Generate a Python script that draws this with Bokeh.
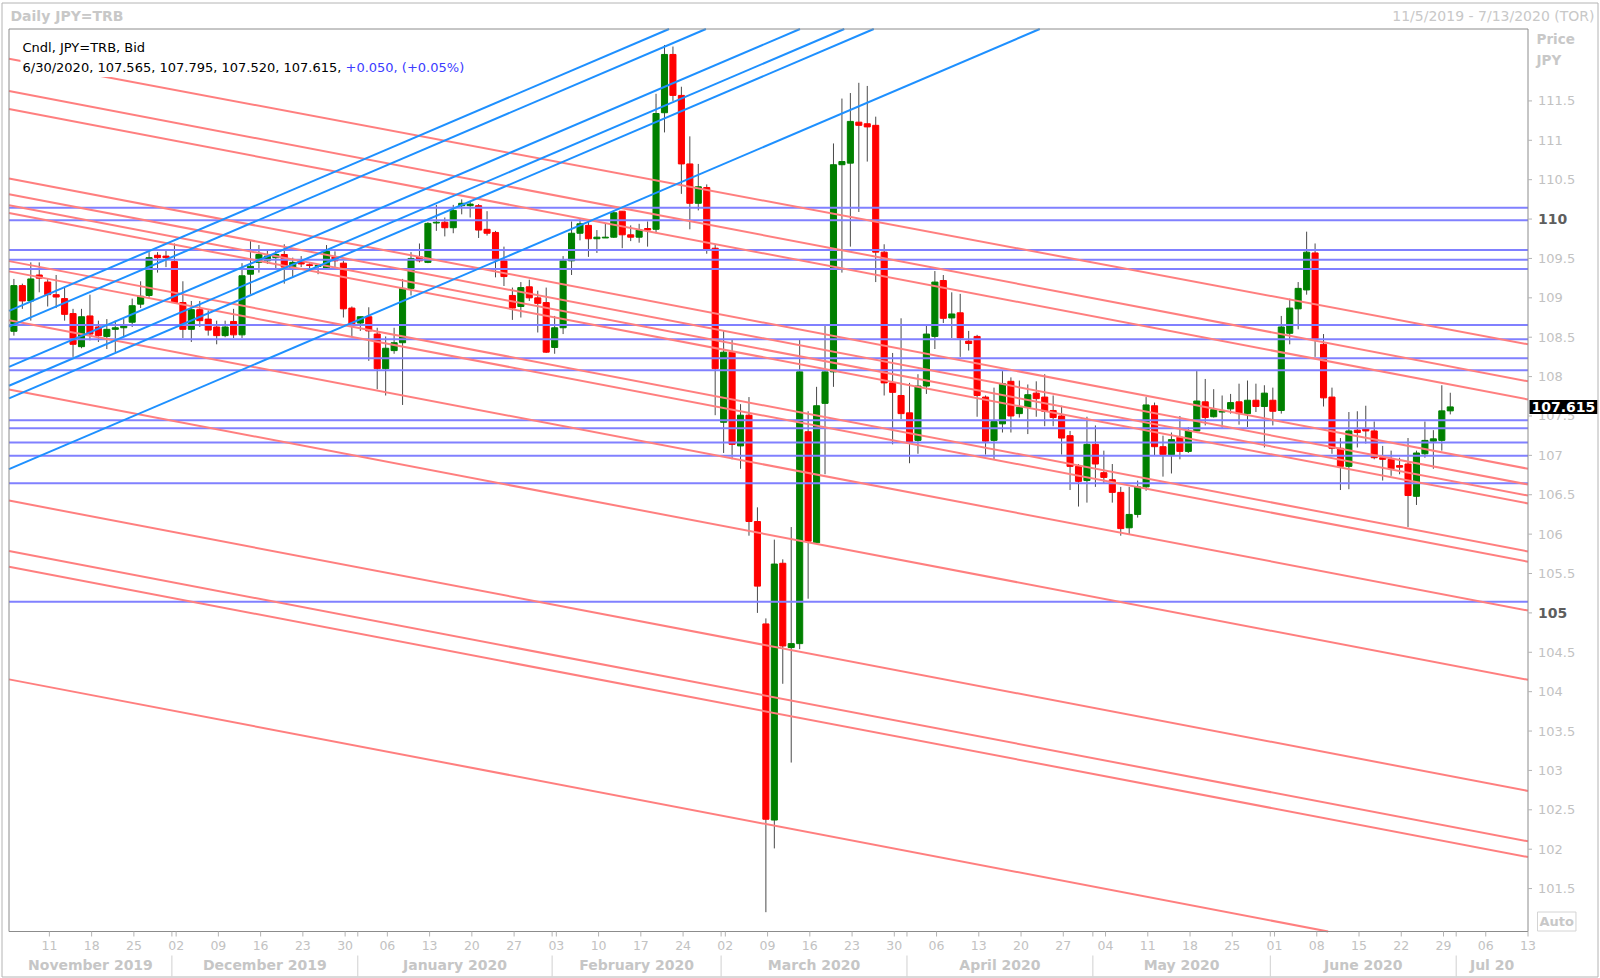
import pandas as pd
from bokeh.plotting import figure
from bokeh.models import Range1d, Label, ColumnDataSource
from bokeh.embed import file_html
from bokeh.resources import INLINE
from bokeh.core.properties import value

# ---------------- data ----------------
first_day = "2019-11-05"
last_day = "2020-07-13"

opens = [108.575, 109.155, 108.96, 109.29, 109.2, 109.04, 108.99, 108.8, 108.38, 108.77,
         108.63, 108.51, 108.60, 108.62, 108.69, 108.92, 109.03, 109.54, 109.53, 109.46,
         108.94, 108.60, 108.85, 108.73, 108.63, 108.52, 108.70, 108.53, 109.30, 109.45,
         109.47, 109.51, 109.55, 109.38, 109.47, 109.42, 109.40, 109.38, 109.52, 109.44,
         108.87, 108.68, 108.76, 108.54, 108.10, 108.33, 108.43, 109.12, 109.52, 109.45,
         109.95, 109.96, 109.89, 110.17, 110.17, 110.17, 109.87, 109.83, 109.47, 109.03,
         108.89, 109.14, 109.00, 108.94, 108.37, 108.62, 109.47, 109.82, 109.92, 109.75,
         109.76, 109.77, 110.10, 109.80, 109.77, 109.88, 109.87, 111.35, 112.09, 111.57,
         110.70, 110.20, 110.40, 109.63, 107.42, 108.31, 107.12, 107.51, 106.16, 104.86,
         102.37, 105.63, 104.56, 104.61, 107.30, 105.89, 107.66, 108.06, 110.69, 110.71,
         111.23, 111.21, 111.19, 109.58, 107.92, 107.76, 107.54, 107.19, 107.88, 108.51,
         109.22, 108.745, 108.81, 108.45, 108.51, 107.74, 107.19, 107.40, 107.94, 107.53,
         107.61, 107.79, 107.74, 107.57, 107.50, 107.25, 106.86, 106.68, 107.14, 106.78,
         106.69, 106.53, 106.08, 106.25, 106.60, 107.63, 107.11, 107.01, 107.23, 107.05,
         107.31, 107.68, 107.49, 107.55, 107.59, 107.68, 107.53, 107.70, 107.62, 107.70,
         107.57, 108.55, 108.86, 109.10, 109.57, 108.41, 107.74, 107.09, 106.86, 107.32,
         107.34, 107.31, 106.97, 106.95, 106.87, 106.89, 106.48, 107.02, 107.18, 107.19,
         107.565]
highs = [109.24, 109.18, 109.45, 109.45, 109.25, 109.29, 109.13, 108.86, 108.86, 109.04,
         108.71, 108.73, 108.71, 108.73, 108.99, 109.21, 109.58, 109.58, 109.60, 109.69,
         109.21, 108.96, 108.96, 108.84, 108.71, 108.71, 108.86, 109.44, 109.72, 109.67,
         109.60, 109.60, 109.68, 109.51, 109.53, 109.44, 109.43, 109.67, 109.59, 109.47,
         108.89, 108.76, 108.88, 108.62, 108.51, 108.62, 109.24, 109.58, 109.69, 109.96,
         110.18, 110.02, 110.18, 110.25, 110.23, 110.19, 110.10, 109.85, 109.65, 109.13,
         109.20, 109.23, 109.09, 109.13, 108.77, 109.53, 109.97, 110.00, 109.97, 109.86,
         109.94, 110.10, 110.10, 109.92, 109.94, 109.97, 111.59, 112.21, 112.19, 111.68,
         111.05, 110.70, 110.44, 109.68, 108.58, 108.47, 107.65, 107.74, 106.34, 104.93,
         105.93, 105.68, 106.09, 108.47, 107.56, 107.87, 108.65, 110.96, 111.53, 111.60,
         111.73, 111.69, 111.30, 109.68, 108.30, 108.74, 107.92, 108.03, 108.65, 109.34,
         109.29, 109.07, 109.05, 108.58, 108.53, 107.76, 107.86, 108.07, 107.99, 107.95,
         107.90, 107.94, 108.03, 107.76, 107.63, 107.31, 106.89, 107.49, 107.38, 107.06,
         106.89, 106.60, 106.60, 106.68, 107.74, 107.67, 107.25, 107.29, 107.50, 107.36,
         108.07, 107.97, 107.84, 107.76, 107.78, 107.91, 107.95, 107.91, 107.89, 107.86,
         108.77, 108.99, 109.20, 109.84, 109.69, 108.54, 107.86, 107.22, 107.55, 107.56,
         107.63, 107.43, 107.12, 107.06, 106.97, 107.22, 107.06, 107.43, 107.32, 107.89,
         107.795]
lows = [108.52, 108.86, 108.71, 109.07, 108.89, 108.87, 108.71, 108.25, 108.36, 108.46,
        108.44, 108.35, 108.31, 108.50, 108.63, 108.87, 109.00, 109.32, 109.39, 108.93,
        108.49, 108.44, 108.63, 108.52, 108.41, 108.50, 108.49, 108.49, 109.05, 109.32,
        109.43, 109.37, 109.18, 109.26, 109.39, 109.37, 109.30, 109.37, 109.38, 108.75,
        108.50, 108.58, 108.20, 107.84, 107.76, 108.29, 107.64, 109.03, 109.45, 109.44,
        109.85, 109.78, 109.82, 110.06, 110.02, 109.76, 109.79, 109.26, 109.15, 108.72,
        108.75, 108.96, 108.56, 108.30, 108.29, 108.54, 109.29, 109.73, 109.52, 109.57,
        109.76, 109.76, 109.63, 109.72, 109.70, 109.65, 109.82, 111.10, 111.50, 110.32,
        109.87, 110.11, 109.56, 107.51, 107.03, 106.95, 106.83, 105.98, 105.00, 101.20,
        102.01, 104.10, 103.10, 104.54, 105.18, 105.89, 106.76, 107.87, 109.32, 109.65,
        110.09, 110.73, 109.20, 107.76, 107.14, 107.46, 106.90, 107.02, 107.78, 108.35,
        108.68, 108.49, 108.25, 108.33, 107.49, 107.01, 106.95, 107.29, 107.29, 107.48,
        107.27, 107.49, 107.37, 107.37, 107.01, 106.56, 106.35, 106.40, 106.60, 106.64,
        106.40, 105.98, 106.00, 106.21, 106.55, 107.00, 106.73, 106.77, 106.95, 107.03,
        107.29, 107.38, 107.48, 107.35, 107.53, 107.39, 107.36, 107.55, 107.10, 107.38,
        107.53, 108.41, 108.60, 109.04, 108.25, 107.62, 107.02, 106.56, 106.57, 107.10,
        107.15, 106.95, 106.68, 106.74, 106.76, 106.09, 106.37, 106.97, 106.83, 107.06,
        107.52]
closes = [109.155, 108.96, 109.24, 109.25, 109.04, 109.01, 108.79, 108.41, 108.76, 108.54,
          108.52, 108.60, 108.62, 108.65, 108.90, 109.02, 109.51, 109.51, 109.51, 108.94,
          108.60, 108.85, 108.71, 108.59, 108.52, 108.63, 108.53, 109.28, 109.40, 109.55,
          109.53, 109.55, 109.39, 109.45, 109.43, 109.41, 109.41, 109.59, 109.47, 108.86,
          108.67, 108.76, 108.58, 108.10, 108.36, 108.43, 109.12, 109.50, 109.47, 109.945,
          109.96, 109.89, 110.11, 110.20, 110.19, 109.86, 109.82, 109.49, 109.27, 108.87,
          109.13, 109.00, 108.93, 108.31, 108.62, 109.47, 109.82, 109.94, 109.75, 109.77,
          109.77, 110.08, 109.80, 109.77, 109.86, 109.86, 111.34, 112.09, 111.57, 110.70,
          110.20, 110.41, 109.62, 108.10, 108.31, 107.14, 107.51, 106.16, 105.34, 102.38,
          105.62, 104.58, 104.61, 108.06, 105.91, 107.63, 108.06, 110.69, 110.73, 111.24,
          111.19, 111.17, 109.58, 107.92, 107.80, 107.53, 107.17, 107.88, 108.54, 109.20,
          108.74, 108.795, 108.49, 108.42, 107.76, 107.18, 107.43, 107.91, 107.50, 107.61,
          107.77, 107.72, 107.56, 107.48, 107.22, 106.86, 106.67, 107.14, 106.89, 106.72,
          106.53, 106.07, 106.25, 106.60, 107.64, 107.11, 107.01, 107.20, 107.05, 107.31,
          107.69, 107.48, 107.58, 107.56, 107.67, 107.53, 107.70, 107.62, 107.79, 107.56,
          108.63, 108.87, 109.12, 109.58, 108.48, 107.73, 107.09, 106.86, 107.31, 107.29,
          107.31, 106.97, 106.95, 106.83, 106.85, 106.49, 107.03, 107.19, 107.21, 107.565,
          107.615]

# descending (red) trend lines: price on first day and on last axis day
red_line_start = [112.02, 111.61, 111.38, 110.50, 110.30, 110.16, 110.06, 109.45,
                  109.32, 108.70, 107.82, 106.41, 105.77, 105.57, 104.14]
red_line_end = [108.41, 107.94, 107.71, 106.83, 106.63, 106.49, 106.39, 105.78,
                105.65, 105.03, 104.15, 102.74, 102.10, 101.90, 100.47]
# ascending (blue) trend lines
blue_line_start = [108.87, 108.67, 108.16, 107.92, 107.76, 106.86]
blue_line_end = [117.07, 116.87, 116.36, 116.12, 115.96, 115.06]
# horizontal levels
level_prices = [110.145, 109.985, 109.607, 109.484, 109.367, 108.655, 108.473,
                108.233, 108.08, 107.447, 107.345, 107.164, 106.996, 106.647, 105.14]

price_ticks = [101.5, 102, 102.5, 103, 103.5, 104, 104.5, 105, 105.5, 106, 106.5,
               107, 107.5, 108, 108.5, 109, 109.5, 110, 110.5, 111, 111.5]
bold_prices = [110, 105]
day_tick_labels = ["11", "18", "25", "02", "09", "16", "23", "30", "06", "13", "20", "27",
                   "03", "10", "17", "24", "02", "09", "16", "23", "30", "06", "13", "20",
                   "27", "04", "11", "18", "25", "01", "08", "15", "22", "29", "06", "13"]
month_labels = ["November 2019", "December 2019", "January 2020", "February 2020",
                "March 2020", "April 2020", "May 2020", "June 2020", "Jul 20"]

title_left = "Daily JPY=TRB"
title_right = "11/5/2019 - 7/13/2020 (TOR)"
legend_line1 = "Cndl, JPY=TRB, Bid"
legend_line2 = "6/30/2020, 107.565, 107.795, 107.520, 107.615, "
legend_change = "+0.050, (+0.05%)"
last_price = "107.615"

# ---------------- layout (pixels) ----------------
W, H = 1600, 978
FL, FR, FT, FB = 8.5, 1527.5, 28.5, 931.0      # plot frame inside the canvas
X0, X1 = -0.78, 179.0                            # visible day-index range
Y0, Y1 = 100.955, 112.413                        # visible price range
PX = (FR - FL) / (X1 - X0)
PY = (FB - FT) / (Y1 - Y0)

def dx(px):   # canvas pixel x -> data x
    return X0 + (px - FL) / PX

def dy(py):   # canvas pixel y (from top) -> data y
    return Y1 - (py - FT) / PY

days = pd.bdate_range(first_day, last_day)
n_axis = len(days)
span = n_axis - 1
idx = list(range(len(opens)))
mondays = [i for i, d in enumerate(days) if d.weekday() == 0]
bounds = [i - 0.5 for i in range(1, n_axis) if days[i].month != days[i - 1].month]

p = figure(width=W, height=H, output_backend="svg", toolbar_location=None,
           x_range=Range1d(dx(0), dx(W)), y_range=Range1d(dy(H), dy(0)),
           x_axis_location=None, y_axis_location=None, min_border=0)
p.grid.visible = False
p.outline_line_color = None
p.background_fill_color = "white"
p.border_fill_color = "white"

FONT = "DejaVu Sans"
LIGHT = "#c2c2c2"
TICK = "#b4b4b4"

# outer border
p.line([dx(1.5), dx(1597.5), dx(1597.5), dx(1.5), dx(1.5)],
       [dy(2.5), dy(2.5), dy(976.5), dy(976.5), dy(2.5)], line_color="#b4b4b4", line_width=1)

# ---------------- candles ----------------
cx = [i - 0.2 for i in idx]
src = ColumnDataSource(dict(
    x=cx, o=opens, h=highs, l=lows, c=closes,
    top=[max(o, c) for o, c in zip(opens, closes)],
    bot=[min(o, c) for o, c in zip(opens, closes)],
    col=["#008000" if c >= o else "#ff0000" for o, c in zip(opens, closes)],
))
p.segment(x0="x", y0="l", x1="x", y1="h", line_color="#4a4a4a", line_width=1, source=src)
p.vbar(x="x", width=0.72, top="top", bottom="bot", fill_color="col", line_color="col",
       line_width=1, source=src)

# ---------------- trend lines (clipped to the frame) ----------------
def clipped(a, b):
    s = (b - a) / span
    if s == 0:
        return [X0, X1], [a, a]
    xa, xb = (Y1 - a) / s, (Y0 - a) / s
    lo, hi = max(min(xa, xb), X0), min(max(xa, xb), X1)
    if lo >= hi:
        return None
    return [lo, hi], [a + s * lo, a + s * hi]

p.multi_line(xs=[[X0, X1]] * len(level_prices), ys=[[v, v] for v in level_prices],
             line_color="#8080ff", line_width=2)
reds = [clipped(a, b) for a, b in zip(red_line_start, red_line_end)]
reds = [r for r in reds if r]
p.multi_line(xs=[r[0] for r in reds], ys=[r[1] for r in reds], line_color="#ff7f7f", line_width=2)
blues = [clipped(a, b) for a, b in zip(blue_line_start, blue_line_end)]
blues = [r for r in blues if r]
p.multi_line(xs=[r[0] for r in blues], ys=[r[1] for r in blues], line_color="#1e90ff", line_width=2)

# frame
p.line([X0, X1, X1, X0, X0], [Y0, Y0, Y1, Y1, Y0], line_color="#8c8c8c", line_width=1)

# ---------------- right price axis ----------------
reg = [t for t in price_ticks if t not in bold_prices]
p.segment(x0=[X1] * len(price_ticks), y0=price_ticks, x1=[dx(FR + 4)] * len(price_ticks),
          y1=price_ticks, line_color=TICK, line_width=1)
p.text(x=[dx(FR + 10)] * len(reg), y=reg, text=[f"{t:g}" for t in reg],
       text_font=value(FONT), text_font_size=value("13px"), text_color=LIGHT,
       text_align="left", text_baseline="middle")
p.text(x=[dx(FR + 10)] * len(bold_prices), y=bold_prices, text=[f"{t:g}" for t in bold_prices],
       text_font=value(FONT), text_font_size=value("14px"), text_font_style="bold",
       text_color="#5e5e5e", text_align="left", text_baseline="middle")

# ---------------- bottom date axis ----------------
p.segment(x0=mondays + bounds, y0=[Y0] * (len(mondays) + len(bounds)),
          x1=mondays + bounds, y1=[dy(FB + 5)] * (len(mondays) + len(bounds)),
          line_color=TICK, line_width=1)
p.text(x=mondays, y=[dy(945)] * len(mondays), text=day_tick_labels,
       text_font=value(FONT), text_font_size=value("12.5px"), text_color=LIGHT,
       text_align="center", text_baseline="middle")
edges = [X0] + bounds + [X1]
centers = [(a + b) / 2 for a, b in zip(edges[:-1], edges[1:])]
p.text(x=centers, y=[dy(964)] * len(centers), text=month_labels,
       text_font=value(FONT), text_font_size=value("14px"), text_font_style="bold",
       text_color="#c6c6c6", text_align="center", text_baseline="middle")
p.segment(x0=bounds, y0=[dy(955)] * len(bounds), x1=bounds, y1=[dy(976)] * len(bounds),
          line_color="#d0d0d0", line_width=1)

# ---------------- text annotations (screen units, frame == canvas) ----------------
def lab(text, x, y, size="13px", color=LIGHT, bold=False, align="left",
        yu="screen", bg=None, border=None, pad=0):
    l = Label(x=x, y=(H - y) if yu == "screen" else y, x_units="screen", y_units=yu,
              text=text, text_font=FONT, text_font_size=size, text_color=color,
              text_font_style="bold" if bold else "normal",
              text_align=align, text_baseline="middle",
              background_fill_color=bg, border_line_color=border, padding=pad)
    p.add_layout(l)

lab(title_left, 10, 15, size="14px", color="#c8c8c8", bold=True)
lab(title_right, 1594, 15, size="14px", color="#c8c8c8", align="right")
lab(legend_line1, 20, 47, color="black", bg="white", pad=2)
lab(legend_line2, 20, 67, color="black", bg="white", pad=2)
lab(legend_change, 343, 67, color="#3c3cff", bg="white", pad=2)
lab("Price", 1536, 38.5, size="13.5px", color="#c8c8c8", bold=True)
lab("JPY", 1536, 59.5, size="13.5px", color="#c8c8c8", bold=True)
lab(last_price, 1529, float(last_price), size="14px", color="white", bold=True,
    yu="data", bg="black", pad=2)
lab("Auto", 1537, 921, size="13px", color="#c8c8c8", bold=True, border="#d4d4d4", pad=2)

open("out.html", "w").write(file_html(p, INLINE))
